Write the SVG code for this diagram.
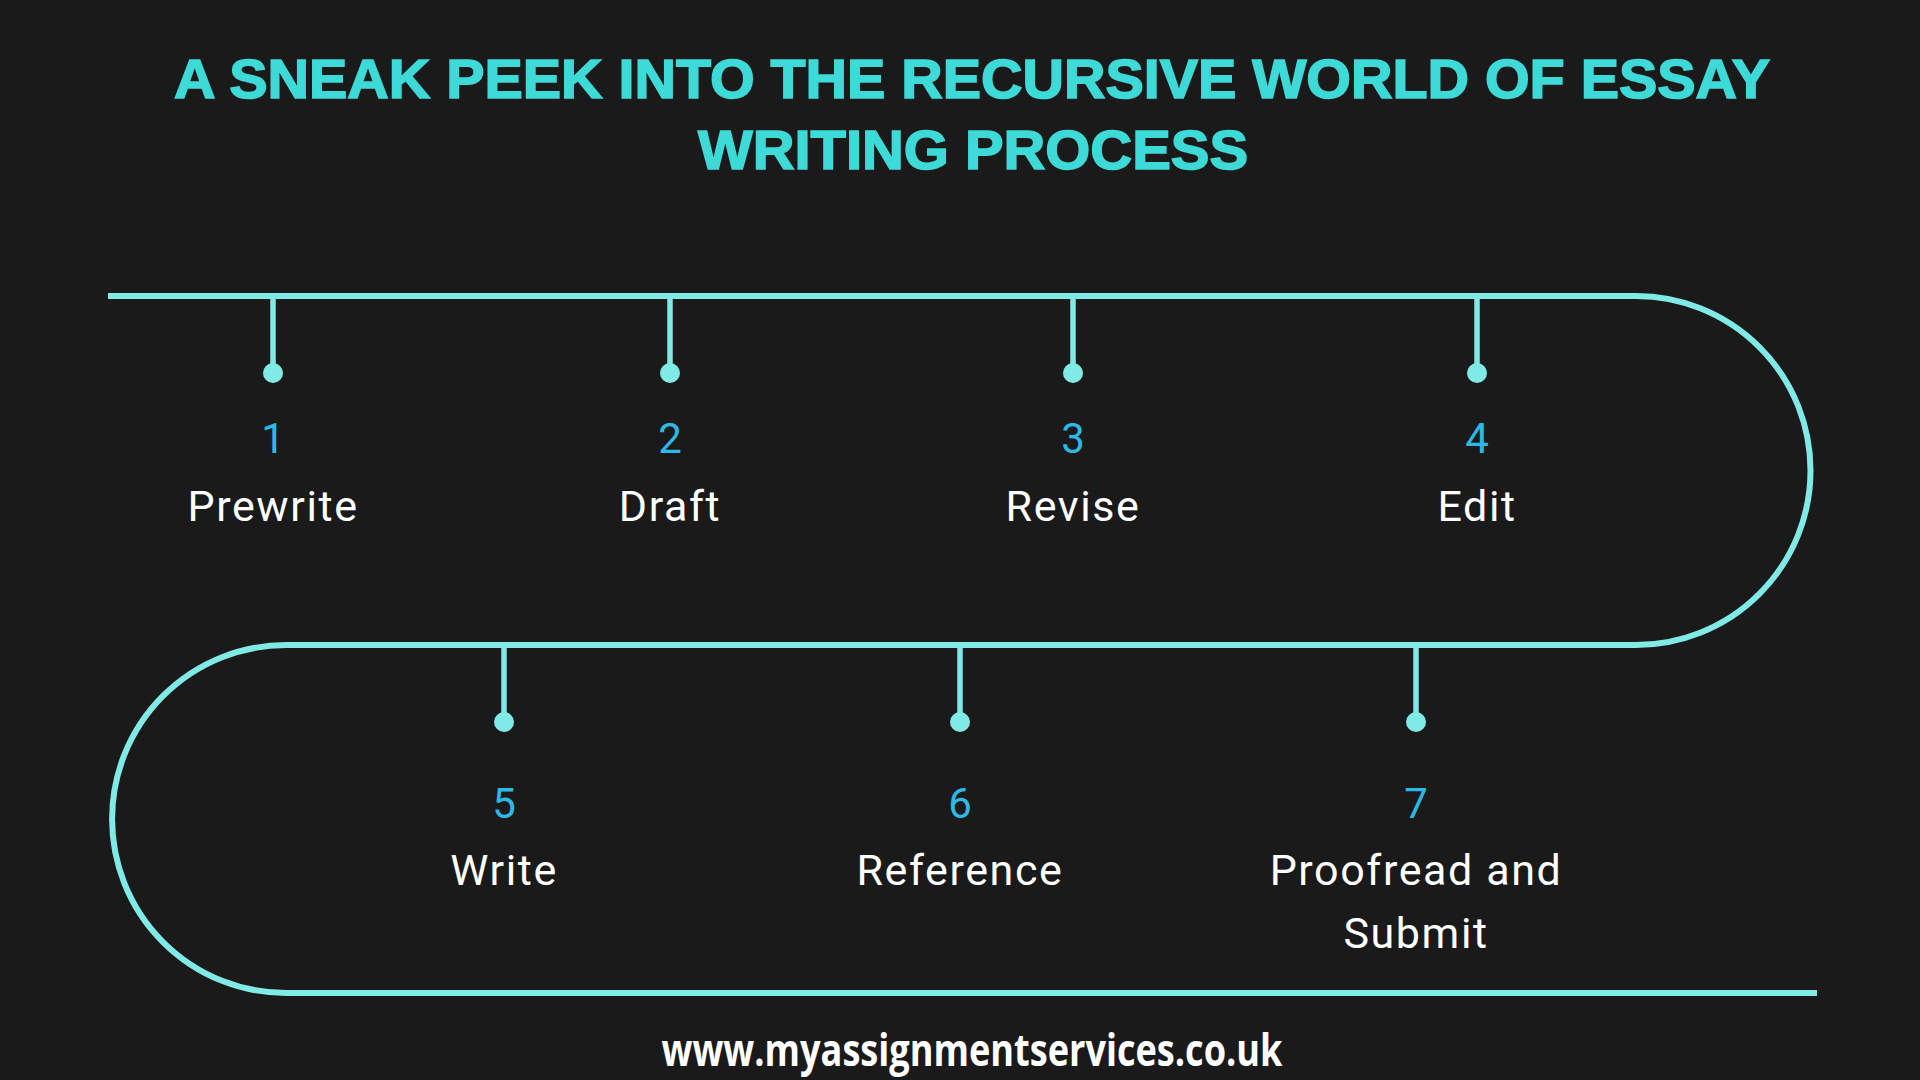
<svg xmlns="http://www.w3.org/2000/svg" width="1920" height="1080" viewBox="0 0 1920 1080">
<style>
.title{font-family:"Liberation Sans",Arial,sans-serif;font-weight:bold;font-size:56px;fill:#3DDAD7;stroke:#3DDAD7;stroke-width:1.6px;text-anchor:middle}
.num{font-family:Roboto,"Liberation Sans",sans-serif;font-size:42px;fill:#2CB9E6;text-anchor:middle}
.lbl{font-family:Roboto,"Liberation Sans",sans-serif;font-size:43px;fill:#FFFFFF;text-anchor:middle;letter-spacing:1.6px}
.track{fill:none;stroke:#80EAE6;stroke-width:6}
.stem{stroke:#80EAE6;stroke-width:5.5}
.dot{fill:#80EAE6}
.foot{font-family:"Open Sans","Liberation Sans",sans-serif;font-weight:bold;font-size:44px;fill:#FFFFFF;text-anchor:middle}
</style>
<rect width="1920" height="1080" fill="#1A1A1A"/>
<g id="title">
<text class="title" x="972" y="98" textLength="1596" lengthAdjust="spacingAndGlyphs">A SNEAK PEEK INTO THE RECURSIVE WORLD OF ESSAY</text>
<text class="title" x="973" y="169" textLength="550" lengthAdjust="spacingAndGlyphs">WRITING PROCESS</text>
</g>
<g id="connectors">
<path class="track" d="M108,296 H1636 A174.5,174.5 0 0 1 1636,645 H286 A174,174 0 0 0 286,993 H1817"/>
<line class="stem" x1="273" y1="296" x2="273" y2="373"/>
<line class="stem" x1="670" y1="296" x2="670" y2="373"/>
<line class="stem" x1="1073" y1="296" x2="1073" y2="373"/>
<line class="stem" x1="1477" y1="296" x2="1477" y2="373"/>
<line class="stem" x1="504" y1="645" x2="504" y2="722"/>
<line class="stem" x1="960" y1="645" x2="960" y2="722"/>
<line class="stem" x1="1416" y1="645" x2="1416" y2="722"/>
</g>
<g id="step1"><circle class="dot" cx="273" cy="373" r="10"/><text class="num" x="273" y="453">1</text><text class="lbl" x="273" y="521">Prewrite</text></g>
<g id="step2"><circle class="dot" cx="670" cy="373" r="10"/><text class="num" x="670" y="453">2</text><text class="lbl" x="670" y="521">Draft</text></g>
<g id="step3"><circle class="dot" cx="1073" cy="373" r="10"/><text class="num" x="1073" y="453">3</text><text class="lbl" x="1073" y="521">Revise</text></g>
<g id="step4"><circle class="dot" cx="1477" cy="373" r="10"/><text class="num" x="1477" y="453">4</text><text class="lbl" x="1477" y="521">Edit</text></g>
<g id="step5"><circle class="dot" cx="504" cy="722" r="10"/><text class="num" x="504" y="818">5</text><text class="lbl" x="504" y="885">Write</text></g>
<g id="step6"><circle class="dot" cx="960" cy="722" r="10"/><text class="num" x="960" y="818">6</text><text class="lbl" x="960" y="885">Reference</text></g>
<g id="step7"><circle class="dot" cx="1416" cy="722" r="10"/><text class="num" x="1416" y="818">7</text><text class="lbl" x="1416" y="885">Proofread and</text><text class="lbl" x="1416" y="948">Submit</text></g>
<g id="footer"><text class="foot" x="972" y="1066" textLength="621" lengthAdjust="spacingAndGlyphs">www.myassignmentservices.co.uk</text></g>
</svg>
